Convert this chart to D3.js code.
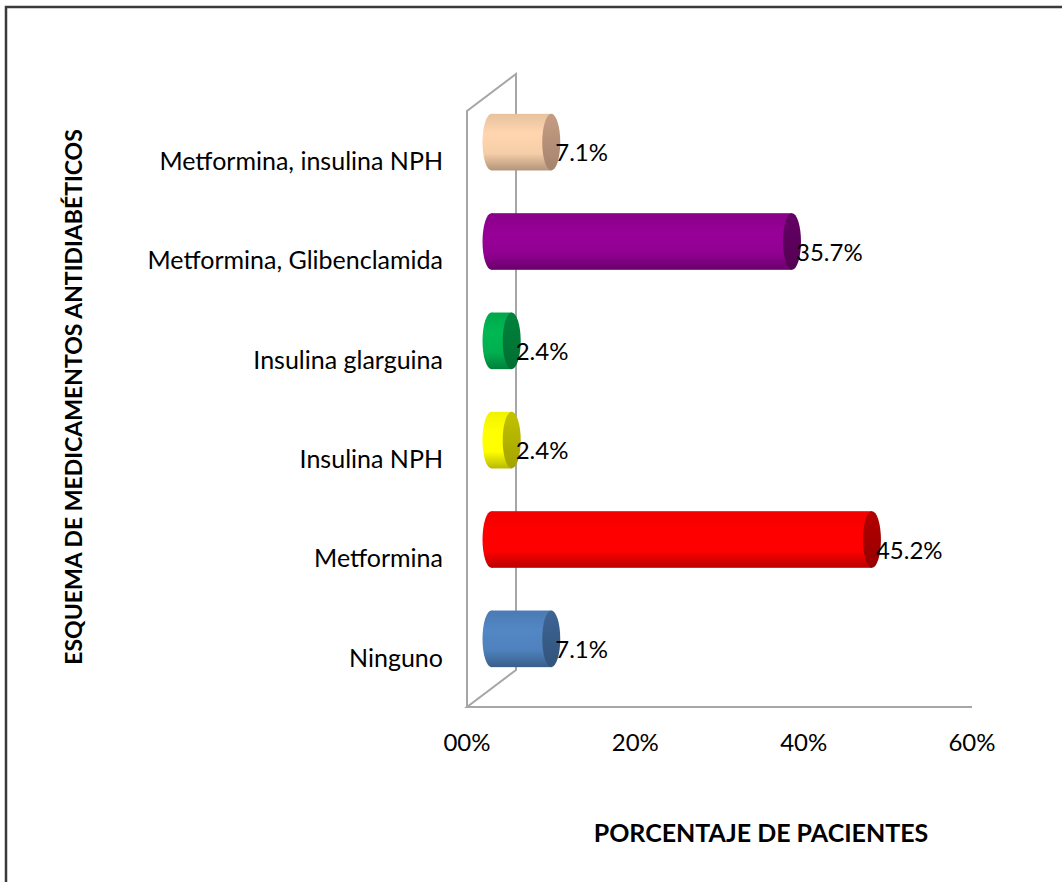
<!DOCTYPE html>
<html>
<head>
<meta charset="utf-8">
<script src="https://cdn.jsdelivr.net/npm/d3@7"></script>
<style>
  body { margin: 0; background: #fff; }
  text { font-family: Lato, "Noto Sans", sans-serif; fill: #000; }
</style>
</head>
<body>
<svg id="chart" width="1062" height="882"></svg>
<script>
// data
var categories = ["Ninguno", "Metformina", "Insulina NPH", "Insulina glarguina",
                  "Metformina, Glibenclamida", "Metformina, insulina NPH"]
var values = [0.071, 0.452, 0.024, 0.024, 0.357, 0.071]
var valueLabels = ["7.1%", "45.2%", "2.4%", "2.4%", "35.7%", "7.1%"]
var tickValues = [0, 0.2, 0.4, 0.6]
var tickLabels = ["00%", "20%", "40%", "60%"]
var bodyColors = ["#4F81BD", "#FF0000", "#FFFF00", "#00B050", "#920092", "#F5CDA8"]
var capColors = ["#385D8A", "#A80000", "#B5B500", "#007A38", "#5E005E", "#B8927A"]

var svg = d3.select("#chart")
var fontSize = 24

// outer border (runs off the right and bottom)
svg.append("rect")
    .attr("x", 6).attr("y", 7)
    .attr("width", 1100).attr("height", 900)
    .attr("fill", "none")
    .attr("stroke", "#3a3a3a")
    .attr("stroke-width", 2.5)

// front plane of the 3d plot
var plotLeft = 467, plotRight = 972, plotTop = 111, plotBottom = 707
var depthX = 49, depthY = -37

var x = d3.scaleLinear().domain([0, 0.6]).range([plotLeft, plotRight])
var y = d3.scaleBand().domain(categories).range([plotBottom, plotTop]).paddingInner(0.43).paddingOuter(0.215)

var grid = svg.append("g")
    .attr("stroke", "#a6a6a6")
    .attr("stroke-width", 2)
    .attr("fill", "none")

// side wall outline + floor
grid.append("path")
    .attr("d", "M" + plotLeft + "," + plotBottom + "V" + plotTop +
        "L" + (plotLeft + depthX) + "," + (plotTop + depthY) +
        "V" + (plotBottom + depthY) + "L" + plotLeft + "," + plotBottom + "H" + plotRight)

// gradients for the cylinders
var defs = svg.append("defs")
bodyColors.forEach(function (c, i) {
    var g = defs.append("linearGradient")
        .attr("id", "body" + i)
        .attr("x1", 0).attr("y1", 0).attr("x2", 0).attr("y2", 1)
    var base = d3.color(c)
    g.append("stop").attr("offset", "0%").attr("stop-color", base.darker(0.15))
    g.append("stop").attr("offset", "35%").attr("stop-color", base.brighter(0.12))
    g.append("stop").attr("offset", "70%").attr("stop-color", base)
    g.append("stop").attr("offset", "100%").attr("stop-color", base.darker(0.9))

    var cg = defs.append("linearGradient")
        .attr("id", "cap" + i)
        .attr("x1", 0).attr("y1", 0).attr("x2", 0).attr("y2", 1)
    cg.append("stop").attr("offset", "0%").attr("stop-color", d3.color(capColors[i]).brighter(0.2))
    cg.append("stop").attr("offset", "100%").attr("stop-color", d3.color(capColors[i]).darker(0.3))
})

var rx = 9
var offX = depthX / 2, offY = depthY / 2

var bars = svg.selectAll("g.bar")
    .data(categories)
    .enter().append("g")
    .attr("class", "bar")

bars.each(function (d, i) {
    var g = d3.select(this)
    var x0 = x(0) + offX
    var x1 = x(values[i]) + offX
    var yt = y(d) + offY
    var h = y.bandwidth()
    var ry = h / 2

    g.append("ellipse")
        .attr("cx", x0).attr("cy", yt + ry)
        .attr("rx", rx).attr("ry", ry)
        .attr("fill", "url(#body" + i + ")")
    g.append("rect")
        .attr("x", x0).attr("y", yt)
        .attr("width", x1 - x0).attr("height", h)
        .attr("fill", "url(#body" + i + ")")
    g.append("ellipse")
        .attr("cx", x1).attr("cy", yt + ry)
        .attr("rx", rx).attr("ry", ry)
        .attr("fill", "url(#cap" + i + ")")

    g.append("text")
        .attr("x", x1 + 4)
        .attr("y", yt + ry + 13)
        .attr("dominant-baseline", "middle")
        .attr("font-size", fontSize)
        .text(valueLabels[i])
})

// category labels
svg.selectAll("text.cat")
    .data(categories)
    .enter().append("text")
    .attr("class", "cat")
    .attr("x", 443)
    .attr("y", function (d) { return y(d) + y.bandwidth() / 2 + 3 })
    .attr("text-anchor", "end")
    .attr("dominant-baseline", "middle")
    .attr("font-size", 25)
    .text(function (d) { return d })

// x tick labels
svg.selectAll("text.tick")
    .data(tickValues)
    .enter().append("text")
    .attr("class", "tick")
    .attr("x", function (d) { return x(d) })
    .attr("y", 745)
    .attr("text-anchor", "middle")
    .attr("dominant-baseline", "middle")
    .attr("font-size", fontSize)
    .text(function (d, i) { return tickLabels[i] })

// axis titles
svg.append("text")
    .attr("x", 761).attr("y", 836)
    .attr("text-anchor", "middle")
    .attr("dominant-baseline", "middle")
    .attr("font-size", 25)
    .attr("font-weight", "bold")
    .text("PORCENTAJE DE PACIENTES")

svg.append("text")
    .attr("transform", "translate(76,397) rotate(-90)")
    .attr("text-anchor", "middle")
    .attr("dominant-baseline", "middle")
    .attr("font-size", 23)
    .attr("font-weight", "bold")
    .text("ESQUEMA DE MEDICAMENTOS ANTIDIABÉTICOS")
</script>
</body>
</html>
